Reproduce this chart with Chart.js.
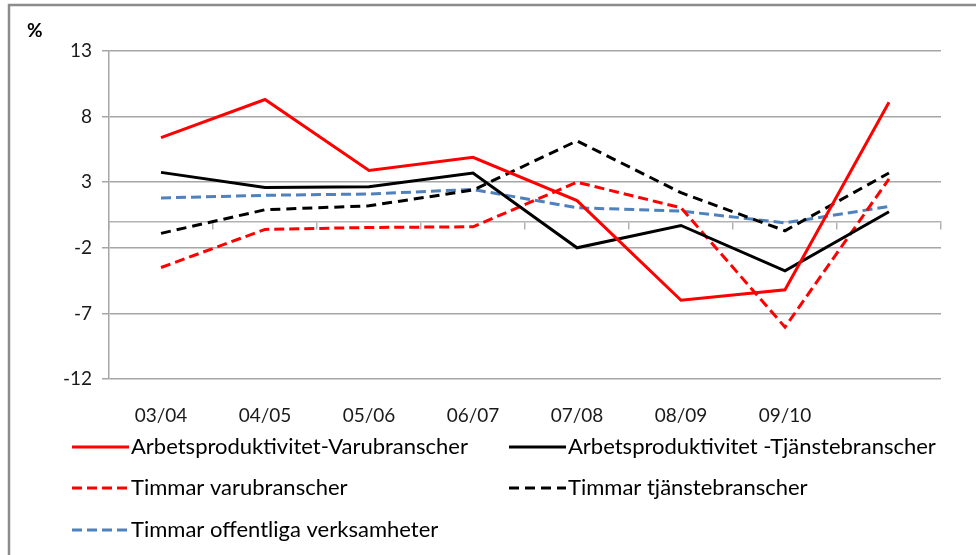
<!DOCTYPE html>
<html>
<head>
<meta charset="utf-8">
<script src="https://cdn.jsdelivr.net/npm/chart.js@4"></script>
<style>
  html, body { margin: 0; padding: 0; background: #fff; }
  canvas { display: block; }
</style>
</head>
<body>
<canvas id="chart" width="976" height="555"></canvas>
<script>
// period labels (last one is unlabeled in the original)
const periods = ['03/04', '04/05', '05/06', '06/07', '07/08', '08/09', '09/10', ''];
const yTicks = [-12, -7, -2, 3, 8, 13];

const prodVaru = [6.4, 9.3, 3.9, 4.9, 1.6, -6.0, -5.2, 9.1];
const prodTjanst = [3.75, 2.6, 2.65, 3.7, -2.0, -0.3, -3.75, 0.75];
const timmarVaru = [-3.5, -0.6, -0.45, -0.4, 3.0, 1.05, -8.05, 3.25];
const timmarTjanst = [-0.9, 0.9, 1.2, 2.4, 6.15, 2.2, -0.7, 3.7];
const timmarOffentl = [1.8, 2.0, 2.1, 2.45, 1.05, 0.8, -0.1, 1.15];

const ctx = document.getElementById('chart');

Chart.defaults.color = '#1a1a1a';
Chart.defaults.font.family = 'Lato, "Open Sans", sans-serif';

function line(label, data, color, dash) {
  return {
    label: label,
    data: data,
    borderColor: color,
    backgroundColor: color,
    borderWidth: 3,
    borderDash: dash,
    pointRadius: 0,
    tension: 0,
    fill: false
  };
}

// draws the frame, the "%" label and the two-column legend
const extras = {
  id: 'extras',
  beforeDraw(chart) {
    const c = chart.ctx;
    c.save();
    c.fillStyle = '#fff';
    c.fillRect(0, 0, chart.width, chart.height);
    c.strokeStyle = '#8c8c8c';
    c.lineWidth = 2.5;
    c.beginPath();
    c.moveTo(976, 5);
    c.lineTo(9, 5);
    c.lineTo(9, 555);
    c.stroke();
    c.restore();
  },
  afterDraw(chart) {
    const c = chart.ctx;
    c.save();
    c.fillStyle = '#000';
    c.font = 'bold 19px Lato, sans-serif';
    c.textBaseline = 'middle';
    c.fillText('%', 27, 31);

    const slots = [[72, 447], [509, 447], [72, 488], [509, 488], [72, 530]];
    c.font = '22px Lato, sans-serif';
    chart.data.datasets.forEach((ds, i) => {
      const [x, y] = slots[i];
      c.strokeStyle = ds.borderColor;
      c.lineWidth = 3;
      c.setLineDash(ds.borderDash || []);
      c.beginPath();
      c.moveTo(x, y);
      c.lineTo(x + 57, y);
      c.stroke();
      c.setLineDash([]);
      c.fillStyle = '#000';
      c.fillText(ds.label, x + 59, y);
    });
    c.restore();
  }
};

new Chart(ctx, {
  type: 'line',
  data: {
    labels: periods,
    datasets: [
      line('Arbetsproduktivitet-Varubranscher', prodVaru, '#ff0000', []),
      line('Arbetsproduktivitet -Tjänstebranscher', prodTjanst, '#000000', []),
      line('Timmar varubranscher', timmarVaru, '#ff0000', [10, 5]),
      line('Timmar tjänstebranscher', timmarTjanst, '#000000', [10, 6]),
      line('Timmar offentliga verksamheter', timmarOffentl, '#4f81bd', [10, 5])
    ]
  },
  options: {
    responsive: false,
    devicePixelRatio: 1,
    animation: false,
    layout: { padding: { top: 51, right: 35, left: 0, bottom: 0 } },
    plugins: {
      legend: { display: false },
      tooltip: { enabled: false }
    },
    scales: {
      x: {
        type: 'category',
        offset: true,
        grid: { display: false },
        border: { display: false },
        ticks: { font: { size: 19 }, color: '#1a1a1a', padding: 17, maxRotation: 0, autoSkip: false },
        afterFit(scale) { scale.height = 176; }
      },
      x2: {
        type: 'category',
        position: { y: 0 },
        offset: true,
        grid: { offset: true, drawOnChartArea: false, drawTicks: true, tickLength: 7, color: '#b3b3b3', lineWidth: 1.5 },
        border: { color: '#b3b3b3', width: 1.5 },
        ticks: { display: false }
      },
      y: {
        min: -12,
        max: 13,
        afterBuildTicks(scale) { scale.ticks = yTicks.map(v => ({ value: v })); },
        grid: { color: '#a6a6a6', lineWidth: 1.5, tickLength: 7 },
        border: { color: '#a6a6a6', width: 1.5 },
        ticks: { font: { size: 19 }, color: '#1a1a1a', padding: 10 },
        afterFit(scale) { scale.width = 109; }
      }
    }
  },
  plugins: [extras]
});
</script>
</body>
</html>
